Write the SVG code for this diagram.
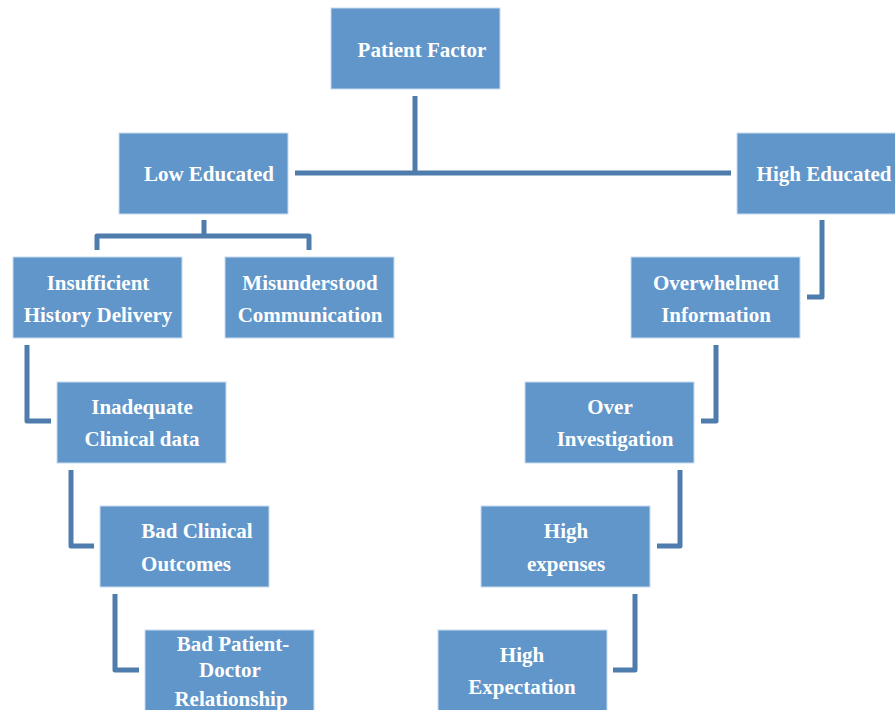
<svg xmlns="http://www.w3.org/2000/svg" width="895" height="710" viewBox="0 0 895 710">
<style>
.box{fill:#6096c9;stroke:#c9dcef;stroke-width:1}
.t{font-family:"Liberation Serif","DejaVu Serif",serif;font-weight:bold;font-size:21px;fill:#ffffff;text-anchor:middle}
.c{fill:none;stroke:#4e7cac;stroke-width:5;stroke-linejoin:round}
</style>
<rect width="895" height="710" fill="#ffffff"/>
<g id="connectors">
<path class="c" d="M415,96 V173"/>
<path class="c" d="M295,173 H731"/>
<path class="c" d="M204,220 V236 M97,250 V236 H309 V250"/>
<path class="c" d="M27,345 V421 H51"/>
<path class="c" d="M71,470 V546 H94"/>
<path class="c" d="M115,594 V670 H139"/>
<path class="c" d="M822,220 V297 H807"/>
<path class="c" d="M716,345 V421 H701"/>
<path class="c" d="M680,470 V546 H657"/>
<path class="c" d="M635,594 V670 H613"/>
</g>
<g id="patient-factor"><rect class="box" x="331" y="8" width="169" height="81"/><text class="t" x="422" y="57">Patient Factor</text></g>
<g id="low-educated"><rect class="box" x="119" y="133" width="169" height="81"/><text class="t" x="209" y="181">Low Educated</text></g>
<g id="high-educated"><rect class="box" x="737" y="133" width="170" height="81"/><text class="t" x="824" y="181">High Educated</text></g>
<g id="insufficient-history"><rect class="box" x="13" y="257" width="169" height="81"/><text class="t" x="98" y="290">Insufficient</text><text class="t" x="98" y="322">History Delivery</text></g>
<g id="misunderstood-communication"><rect class="box" x="225" y="257" width="169" height="81"/><text class="t" x="310" y="290">Misunderstood</text><text class="t" x="310" y="322">Communication</text></g>
<g id="overwhelmed-information"><rect class="box" x="631" y="257" width="169" height="81"/><text class="t" x="716" y="290">Overwhelmed</text><text class="t" x="716" y="322">Information</text></g>
<g id="inadequate-clinical-data"><rect class="box" x="57" y="382" width="169" height="81"/><text class="t" x="142" y="414">Inadequate</text><text class="t" x="142" y="446">Clinical data</text></g>
<g id="over-investigation"><rect class="box" x="525" y="382" width="169" height="81"/><text class="t" x="610" y="414">Over</text><text class="t" x="615" y="446">Investigation</text></g>
<g id="bad-clinical-outcomes"><rect class="box" x="100" y="506" width="169" height="81"/><text class="t" x="197" y="538">Bad Clinical</text><text class="t" x="186" y="571">Outcomes</text></g>
<g id="high-expenses"><rect class="box" x="481" y="506" width="169" height="81"/><text class="t" x="566" y="538">High</text><text class="t" x="566" y="571">expenses</text></g>
<g id="bad-patient-doctor"><rect class="box" x="145" y="630" width="169" height="85"/><text class="t" x="233" y="651">Bad Patient-</text><text class="t" x="230" y="677">Doctor</text><text class="t" x="231" y="706">Relationship</text></g>
<g id="high-expectation"><rect class="box" x="438" y="630" width="169" height="85"/><text class="t" x="522" y="662">High</text><text class="t" x="522" y="694">Expectation</text></g>
</svg>
